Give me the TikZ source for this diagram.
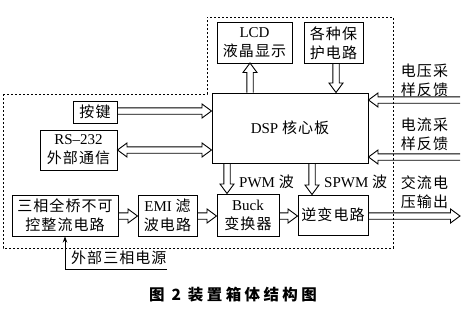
\documentclass[tikz,border=0pt]{standalone}
\usepackage{fontspec}
\setmainfont{Liberation Serif}
\newfontfamily\cjkf[LetterSpace=7]{Noto Sans CJK SC}
\newfontfamily\cjkcap[LetterSpace=22]{Noto Sans CJK SC}
\usetikzlibrary{calc,arrows.meta}
\newcommand\zh[1]{{\cjkf\fontsize{15}{19}\selectfont #1}}
\newcommand\asw{3.2pt}
\newcommand\ahw{7pt}
\newcommand\ahl{9.5pt}
\newcommand\harrow[2]{%
  \path ($(#2)!\ahl!(#1)$) coordinate (hb);
  \draw[arr] ($(#1)!\asw!90:(#2)$) -- ($(hb)!\asw!90:(#2)$) -- ($(hb)!\ahw!90:(#2)$) -- (#2)
    -- ($(hb)!\ahw!-90:(#2)$) -- ($(hb)!\asw!-90:(#2)$) -- ($(#1)!\asw!-90:(#2)$);}
\newcommand\dharrow[2]{%
  \path ($(#2)!\ahl!(#1)$) coordinate (hb);
  \path ($(#1)!\ahl!(#2)$) coordinate (ha);
  \draw[arr] (#1) -- ($(ha)!\ahw!90:(#2)$) -- ($(ha)!\asw!90:(#2)$) -- ($(hb)!\asw!90:(#2)$)
    -- ($(hb)!\ahw!90:(#2)$) -- (#2) -- ($(hb)!\ahw!-90:(#2)$) -- ($(hb)!\asw!-90:(#2)$)
    -- ($(ha)!\asw!-90:(#2)$) -- ($(ha)!\ahw!-90:(#2)$) -- cycle;}
\tikzset{
  box/.style={draw, line width=1pt, inner sep=0pt, align=center,
    font=\fontsize{15}{19}\selectfont},
  arr/.style={line width=0.9pt, line join=miter},
  lbl/.style={inner sep=0pt, align=center, font=\fontsize{15}{19}\selectfont},
  border/.style={line width=0.75pt, dash pattern=on 2.4pt off 1.6pt},
}
\begin{document}
\begin{tikzpicture}[x=1pt,y=-1pt]
\useasboundingbox (0,0) rectangle (473,313);
% dashed enclosure
\draw[border] (3,94) -- (207,94) -- (207,17) -- (393,17) -- (393,248) -- (3,248) -- cycle;
% boxes
\node[box, minimum width=75pt, minimum height=40pt] (lcd) at (254.5,43) {LCD\\\zh{液晶显示}};
\node[box, minimum width=59pt, minimum height=40pt] (prot) at (333.5,43) {\zh{各种保}\\\zh{护电路}};
\node[box, minimum width=44pt, minimum height=22pt] (key) at (95,112) {\zh{按键}};
\node[box, minimum width=77pt, minimum height=40pt] (rs) at (78.5,150) {RS–232\\\zh{外部通信}};
\node[box, minimum width=156pt, minimum height=70pt] (dsp) at (290,128) {DSP \zh{核心板}};
\node[box, minimum width=106pt, minimum height=41pt] (rect) at (65,215.5) {\zh{三相全桥不可}\\\zh{控整流电路}};
\node[box, minimum width=59pt, minimum height=41pt] (emi) at (167.5,215.5) {EMI \zh{滤}\\\zh{波电路}};
\node[box, minimum width=62pt, minimum height=42pt] (buck) at (248,215) {Buck\\\zh{变换器}};
\node[box, minimum width=70pt, minimum height=40pt] (inv) at (333,215) {\zh{逆变电路}};
% labels
\node[lbl] (vfb) at (424.5,80) {\zh{电压采}\\\zh{样反馈}};
\node[lbl] (ifb) at (424.5,134) {\zh{电流采}\\\zh{样反馈}};
\node[lbl] (acout) at (424.5,192) {\zh{交流电}\\\zh{压输出}};
\node[lbl, anchor=west] (pwm) at (239,182) {PWM \zh{波}};
\node[lbl, anchor=west] (spwm) at (324,182) {SPWM \zh{波}};
\node[lbl, anchor=west] (ext) at (71,258) {\zh{外部三相电源}};
\node[inner sep=0pt] (cap) at (233,295) {\cjkcap\bfseries\fontsize{15.5}{18}\selectfont 图 2 装置箱体结构图};
% connector end points
\path (250,63) coordinate (l1) (l1 |- dsp.north) coordinate (l0);
\path (336,63) coordinate (p0) (p0 |- dsp.north) coordinate (p1);
\path (117,111) coordinate (k0) (k0 -| dsp.west) coordinate (k1);
\path (rs.east) coordinate (r0) (r0 -| dsp.west) coordinate (r1);
\path (460,100) coordinate (v0) (v0 -| dsp.east) coordinate (v1);
\path (460,157) coordinate (i0) (i0 -| dsp.east) coordinate (i1);
\path (227,163) coordinate (b0) (b0 |- buck.north) coordinate (b1);
\path (312,163) coordinate (s0) (s0 |- inv.north) coordinate (s1);
\path (118,216) coordinate (e0) (e0 -| emi.west) coordinate (e1);
\path (197,216) coordinate (f0) (f0 -| buck.west) coordinate (f1);
\path (279,216) coordinate (g0) (g0 -| inv.west) coordinate (g1);
\path (368,216) coordinate (o0) (460,216) coordinate (o1);
\path (167,269) coordinate (x0);
% hollow arrows
\harrow{l0}{l1}
\harrow{p0}{p1}
\harrow{k0}{k1}
\dharrow{r0}{r1}
\harrow{v0}{v1}
\harrow{i0}{i1}
\harrow{b0}{b1}
\harrow{s0}{s1}
\harrow{e0}{e1}
\harrow{f0}{f1}
\harrow{g0}{g1}
\harrow{o0}{o1}
% external supply
\draw[line width=0.8pt, -{Stealth[length=6pt,width=4.5pt]}] (x0) -- (x0 -| rect.south) -- (rect.south);
\end{tikzpicture}
\end{document}
